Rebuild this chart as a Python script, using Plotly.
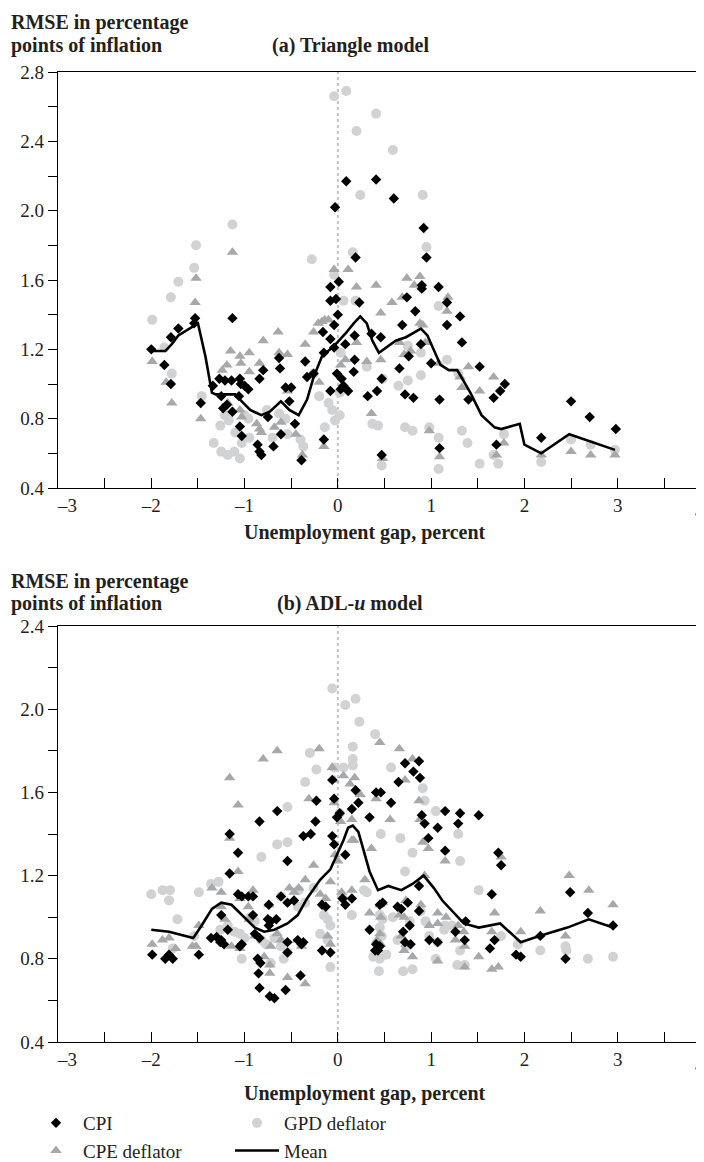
import plotly.graph_objects as go

W, H = 704, 1162
FONT = "Liberation Serif"
TXT = "#231f20"

# ---------------- data: panel (a) Triangle model ----------------
A_CPI_X = [-2.0, -1.86, -1.79, -1.79, -1.71, -1.53, -1.54, -1.47, -1.13, -1.34, -1.27, -1.21, -1.14, -1.25, -1.23,
           -1.19, -1.13, -1.05, -1.04, -1.0, -0.96, -1.06, -1.05, -1.03, -0.84, -0.80, -0.86, -0.84, -0.82, -0.75,
           -0.69, -0.63, -0.62, -0.61, -0.56, -0.50, -0.52, -0.46, -0.39, -0.35, -0.33, -0.26, -0.15, -0.16, -0.15,
           -0.08, -0.08, -0.02, 0.01, 0.0, -0.04, -0.08, -0.04, -0.03, 0.09, 0.41, 0.19, 0.23, 0.18, 0.08,
           -0.01, 0.04, 0.06, 0.03, -0.08, 0.11, 0.18, 0.17, 0.32, 0.36, 0.46, 0.42, 0.47, 0.47, 0.60,
           0.92, 0.95, 0.74, 0.83, 0.90, 0.90, 1.08, 1.17, 1.17, 1.31, 1.33, 0.69, 0.89, 0.76, 0.66,
           1.0, 0.72, 0.81, 1.09, 1.40, 1.52, 1.79, 1.74, 1.67, 1.09, 1.70, 2.18, 2.50, 2.70, 2.98]
A_CPI_Y = [1.20, 1.11, 1.27, 1.00, 1.32, 1.38, 1.35, 0.89, 1.38, 0.99, 1.03, 1.02, 1.02, 0.93, 0.86,
           0.88, 0.84, 1.03, 1.00, 0.99, 0.97, 0.93, 0.755, 0.70, 1.03, 1.08, 0.65, 0.61, 0.59, 0.81,
           0.64, 1.15, 1.09, 0.71, 0.98, 0.98, 0.90, 0.77, 0.56, 1.13, 1.04, 1.06, 0.68, 1.30, 1.18,
           1.56, 1.48, 1.49, 1.59, 1.40, 1.34, 1.26, 1.21, 2.02, 2.17, 2.18, 1.73, 1.47, 1.28, 1.23,
           1.06, 1.03, 0.99, 0.97, 0.96, 0.96, 1.14, 1.07, 0.93, 1.29, 1.27, 0.96, 1.03, 0.59, 2.07,
           1.90, 1.73, 1.50, 1.42, 1.57, 1.55, 1.56, 1.47, 1.34, 1.39, 1.24, 1.34, 1.23, 1.16, 1.09,
           1.12, 0.94, 0.92, 0.91, 0.91, 1.10, 1.00, 0.96, 0.92, 0.63, 0.65, 0.69, 0.90, 0.81, 0.74]

A_CPE_X = [-1.99, -1.84, -1.78, -1.53, -1.52, -1.47, -1.13, -1.15, -1.05, -0.95, -1.19, -1.24, -1.04, -0.95, -0.84,
           -0.80, -0.64, -0.63, -0.54, -1.05, -1.03, -1.18, -0.87, -0.84, -0.82, -0.68, -0.61, -0.54, -0.45, -0.38,
           -0.35, -0.26, -0.21, -0.17, -0.14, -0.10, -0.04, 0.11, 0.20, 0.41, 0.46, -0.15, 0.03, 0.08, -0.20,
           0.31, 0.36, 0.46, 0.58, 0.69, 0.74, 0.82, 0.88, 0.91, 0.88, 1.18, 1.17, 0.20, 0.66, 0.71,
           0.78, 0.94, 1.08, 1.40, 1.31, 1.33, 1.52, 1.67, 0.98, 1.09, 0.48, 1.70, 1.78, 2.18, 2.50,
           2.71, 2.97]
A_CPE_Y = [1.13, 1.01, 0.89, 1.47, 1.61, 0.80, 1.76, 1.19, 1.16, 1.18, 1.11, 1.08, 1.12, 1.07, 1.12,
           1.25, 1.30, 1.18, 1.17, 0.85, 0.81, 0.89, 0.77, 0.74, 0.72, 0.75, 0.78, 0.96, 0.71, 0.59,
           1.23, 1.30, 1.35, 1.36, 1.37, 1.37, 1.66, 1.66, 1.56, 1.57, 1.41, 0.64, 1.11, 1.14, 1.01,
           1.13, 0.83, 1.14, 1.47, 1.50, 1.61, 1.57, 1.62, 1.34, 1.35, 1.50, 1.42, 1.24, 1.24, 1.17,
           1.19, 1.24, 1.12, 1.10, 1.04, 0.98, 0.96, 1.04, 0.73, 0.58, 0.57, 0.59, 0.66, 0.59, 0.61,
           0.59, 0.59]

A_GPD_X = [-1.99, -1.86, -1.79, -1.71, -1.54, -1.52, -1.78, -1.46, -1.13, -1.26, -1.21, -1.17, -1.33, -1.25, -1.18,
           -1.11, -1.05, -1.03, -0.95, -1.00, -0.96, -1.10, -0.76, -0.70, -0.63, -0.56, -0.54, -0.40, -0.37, -0.28,
           -0.26, -0.20, -0.14, -0.10, -0.06, -0.03, 0.02, -0.04, 0.09, 0.41, 0.20, 0.24, 0.16, 0.06, 0.19,
           -0.04, 0.02, 0.31, 0.37, 0.43, 0.48, 0.03, 0.59, 0.91, 0.95, 1.08, 0.75, 0.89, 0.75, 0.65,
           0.89, 1.17, 1.29, 0.72, 0.80, 0.98, 1.08, 1.33, 1.39, 1.52, 1.67, 1.72, 1.78, 2.18, 2.50,
           2.71, 2.97, 0.47, 1.08]
A_GPD_Y = [1.37, 1.21, 1.50, 1.59, 1.67, 1.80, 1.06, 0.93, 1.92, 0.76, 0.82, 0.79, 0.66, 0.61, 0.59,
           0.61, 0.57, 0.66, 0.69, 0.82, 0.80, 0.72, 0.85, 0.69, 0.83, 0.80, 0.71, 0.68, 0.64, 1.72,
           1.06, 0.93, 0.75, 0.89, 0.85, 0.79, 0.82, 2.66, 2.69, 2.56, 2.46, 2.09, 1.76, 1.48, 1.48,
           1.63, 0.95, 1.10, 0.77, 0.76, 1.03, 1.18, 2.35, 2.09, 1.79, 1.45, 1.22, 1.18, 1.02, 0.99,
           1.05, 1.14, 1.06, 0.75, 0.73, 0.75, 0.69, 0.73, 0.66, 0.54, 0.59, 0.54, 0.71, 0.55, 0.68,
           0.65, 0.62, 0.53, 0.51]

A_MEAN_X = [-1.99, -1.85, -1.78, -1.71, -1.53, -1.50, -1.42, -1.35, -1.31, -1.10, -1.03, -0.94, -0.82, -0.73, -0.61,
            -0.52, -0.42, -0.33, -0.26, -0.17, -0.04, 0.08, 0.17, 0.24, 0.31, 0.37, 0.44, 0.62, 0.73, 0.89,
            0.96, 1.10, 1.19, 1.28, 1.42, 1.54, 1.68, 1.75, 1.95, 2.0, 2.18, 2.48, 2.97]
A_MEAN_Y = [1.19, 1.19, 1.23, 1.28, 1.34, 1.35, 1.16, 0.95, 0.94, 0.94, 0.90, 0.85, 0.82, 0.84, 0.90,
            0.85, 0.82, 0.91, 1.04, 1.16, 1.22, 1.29, 1.35, 1.39, 1.35, 1.25, 1.18, 1.25, 1.27, 1.32,
            1.28, 1.11, 1.08, 1.08, 0.95, 0.82, 0.75, 0.74, 0.77, 0.65, 0.60, 0.71, 0.62]

# ---------------- data: panel (b) ADL-u model ----------------
B_CPI_X = [-1.99, -1.85, -1.81, -1.77, -1.49, -1.36, -1.30, -1.26, -1.25, -1.22, -1.25, -1.18, -1.16, -1.07, -1.16,
           -1.07, -1.03, -1.05, -1.03, -0.96, -0.91, -0.91, -0.89, -0.84, -0.86, -0.83, -0.85, -0.84, -0.84, -0.65,
           -0.74, -0.75, -0.72, -0.74, -0.66, -0.73, -0.68, -0.61, -0.54, -0.54, -0.54, -0.56, -0.54, -0.47, -0.43,
           -0.39, -0.37, -0.40, -0.37, -0.29, -0.24, -0.23, -0.17, -0.13, -0.17, -0.08, -0.06, -0.04, -0.06, -0.04,
           -0.01, 0.02, 0.05, 0.15, 0.08, 0.08, 0.15, 0.19, 0.22, 0.34, 0.41, 0.46, 0.34, 0.45, 0.57,
           0.65, 0.72, 0.81, 0.87, 0.88, 0.90, 0.93, 0.97, 1.07, 1.15, 1.31, 1.29, 1.51, 1.15, 1.72,
           1.75, 1.65, 0.48, 0.75, 0.87, 0.64, 0.68, 0.87, 0.77, 0.70, 1.26, 1.37, 0.41, 0.45, 0.43,
           0.40, 0.72, 0.78, 0.98, 1.07, 1.36, 1.68, 1.63, 1.91, 1.96, 2.17, 2.49, 2.68, 2.44, 2.95]
B_CPI_Y = [0.82, 0.80, 0.82, 0.80, 0.82, 0.90, 0.905, 0.88, 0.89, 0.87, 1.01, 0.94, 1.40, 1.31, 1.21,
           1.11, 1.10, 0.86, 0.87, 1.10, 1.10, 1.01, 0.92, 0.90, 0.80, 0.78, 0.73, 0.66, 1.46, 1.51,
           1.06, 0.99, 0.98, 0.96, 0.99, 0.62, 0.61, 1.10, 1.07, 0.88, 0.83, 0.65, 1.27, 1.08, 0.89,
           0.87, 0.88, 0.72, 1.39, 1.40, 1.46, 1.56, 1.06, 1.05, 0.84, 0.83, 1.39, 1.35, 1.66, 1.57,
           1.48, 1.50, 1.09, 1.09, 1.06, 1.30, 1.52, 1.61, 1.55, 1.48, 1.60, 1.60, 0.94, 1.06, 1.55,
           1.65, 1.74, 1.70, 1.75, 1.67, 1.49, 1.45, 1.38, 1.43, 1.51, 1.50, 1.45, 1.49, 1.32, 1.31,
           1.25, 1.11, 1.07, 1.07, 1.15, 1.05, 1.04, 1.03, 0.96, 0.93, 0.93, 0.98, 0.87, 0.86, 0.84,
           0.84, 0.88, 0.87, 0.89, 0.88, 0.89, 0.89, 0.85, 0.82, 0.81, 0.91, 1.12, 1.02, 0.80, 0.96]

B_CPE_X = [-1.99, -1.88, -1.81, -1.74, -1.56, -1.52, -1.49, -1.35, -1.25, -1.25, -1.21, -1.16, -1.07, -1.16, -1.07,
           -1.05, -0.96, -1.14, -1.05, -0.91, -0.95, -0.89, -0.80, -0.65, -0.74, -0.72, -0.73, -0.73, -0.79, -0.65,
           -0.61, -0.54, -0.52, -0.47, -0.42, -0.35, -0.26, -0.31, -0.20, -0.35, -0.43, -0.39, -0.19, -0.13, -0.06,
           -0.04, 0.06, 0.18, 0.24, -0.04, 0.03, 0.15, 0.15, -0.03, 0.00, -0.08, 0.04, -0.11, -0.08, 0.29,
           0.36, 0.45, 0.42, 0.46, 0.46, 0.66, 0.80, 0.13, 0.41, 0.56, 0.72, 0.87, 0.88, 0.91, 0.97,
           0.17, 1.15, 1.75, 0.15, 0.45, 0.48, 0.73, 0.89, 0.34, 0.66, 0.71, 1.07, 1.16, 1.68, 2.17,
           2.48, 2.69, 2.95, 0.45, 0.68, 0.73, 0.98, 1.07, 1.29, 1.35, 1.26, 1.36, 1.65, 1.96, 2.44,
           0.71, 0.80, 1.07, 1.36, 1.51, 1.65, 1.72, 0.93]
B_CPE_Y = [0.87, 0.89, 0.90, 0.85, 0.86, 0.86, 0.96, 1.14, 1.12, 1.05, 0.99, 1.67, 1.54, 1.38, 1.22,
           1.09, 1.05, 0.86, 0.85, 1.13, 0.99, 0.91, 1.76, 1.80, 1.06, 0.86, 0.77, 0.73, 0.81, 0.92,
           0.89, 0.71, 1.14, 1.12, 1.14, 1.18, 1.25, 1.57, 1.81, 0.68, 0.89, 0.86, 1.11, 1.09, 1.72,
           1.66, 1.68, 1.67, 1.59, 1.55, 1.46, 1.47, 1.37, 1.30, 1.27, 1.17, 1.12, 0.91, 0.87, 1.18,
           1.33, 1.84, 0.89, 0.87, 1.00, 1.81, 1.76, 1.64, 1.57, 1.47, 1.66, 1.56, 1.47, 1.36, 1.33,
           1.37, 1.27, 1.29, 1.13, 1.06, 1.07, 1.08, 1.06, 1.02, 1.01, 1.00, 1.02, 1.00, 1.02, 1.03,
           1.20, 1.13, 1.06, 0.92, 0.91, 0.87, 0.96, 0.97, 0.96, 0.93, 0.89, 0.86, 0.93, 0.93, 0.91,
           0.84, 0.81, 0.79, 0.76, 0.81, 0.75, 0.76, 1.20]

B_GPD_X = [-2.0, -1.88, -1.80, -1.81, -1.72, -1.77, -1.49, -1.36, -1.28, -1.54, -1.26, -1.18, -1.11, -1.05, -1.00,
           -1.03, -0.94, -0.89, -0.82, -0.77, -0.82, -0.65, -0.54, -0.54, -0.35, -0.30, -0.23, -0.06, 0.08, 0.19,
           0.23, 0.40, 0.16, 0.16, 0.16, -0.04, 0.06, 0.02, -0.61, -0.68, -0.61, -0.54, -0.72, -0.58, -0.42,
           -0.35, -0.43, -0.26, -0.15, -0.11, -0.08, -0.19, -0.11, -0.08, 0.05, 0.15, 0.31, 0.45, 0.44, 0.46,
           0.57, 0.91, 0.93, 1.05, 1.29, 0.67, 0.80, 1.31, 0.72, 1.51, 0.28, 0.48, 0.59, 0.77, 0.89,
           0.94, 1.15, 1.14, 0.98, 1.07, 1.22, 0.45, 0.47, 0.38, 0.45, 0.52, 0.64, 0.73, 0.70, 0.80,
           1.05, 1.28, 1.36, 1.31, 1.75, 1.93, 2.17, 2.44, 2.45, 2.68, 2.95]
B_GPD_Y = [1.11, 1.13, 1.13, 1.08, 0.99, 0.85, 1.12, 1.16, 1.17, 0.91, 0.94, 0.96, 0.93, 0.92, 0.90,
           0.80, 1.00, 0.98, 0.89, 0.87, 1.29, 1.35, 1.36, 1.53, 1.65, 1.79, 1.71, 2.10, 2.02, 2.05,
           1.94, 1.88, 1.82, 1.76, 1.73, 1.72, 1.72, 1.50, 1.10, 0.90, 0.86, 0.83, 0.78, 0.80, 1.13,
           1.07, 1.05, 1.14, 1.01, 0.99, 0.96, 0.92, 0.89, 0.76, 1.09, 1.01, 1.12, 1.01, 0.74, 1.40,
           1.72, 1.62, 1.56, 1.51, 1.40, 1.38, 1.31, 1.27, 1.22, 1.13, 1.13, 0.99, 1.00, 0.98, 1.03,
           0.98, 0.96, 0.94, 0.91, 0.88, 0.96, 0.95, 0.91, 0.81, 0.80, 0.82, 0.89, 0.86, 0.74, 0.75,
           0.80, 0.77, 0.77, 0.84, 0.91, 0.87, 0.84, 0.86, 0.84, 0.80, 0.81]

B_MEAN_X = [-2.0, -1.81, -1.55, -1.46, -1.35, -1.25, -1.14, -1.03, -0.89, -0.79, -0.68, -0.54, -0.43, -0.33, -0.19,
            -0.08, -0.01, 0.06, 0.11, 0.16, 0.22, 0.29, 0.34, 0.43, 0.54, 0.68, 0.80, 0.92, 1.03, 1.12,
            1.22, 1.35, 1.51, 1.74, 1.96, 2.16, 2.46, 2.69, 2.95]
B_MEAN_Y = [0.94, 0.93, 0.90, 0.96, 1.04, 1.07, 1.06, 1.01, 0.95, 0.93, 0.94, 0.97, 1.01, 1.09, 1.18,
            1.23, 1.30, 1.37, 1.43, 1.44, 1.41, 1.30, 1.22, 1.13, 1.15, 1.13, 1.16, 1.20, 1.14, 1.08,
            1.03, 0.97, 0.95, 0.97, 0.88, 0.91, 0.95, 0.99, 0.95]

# ---------------- ticks / labels ----------------
X_TICKS = [-3, -2.5, -2, -1.5, -1, -0.5, 0, 0.5, 1, 1.5, 2, 2.5, 3, 3.5, 4]
X_TICK_TEXT = ["\u2007\u2007\u20133", "", "\u20132", "", "\u20131", "", "0", "", "1", "", "2", "", "3", "", ""]
X_END_LABEL = "4"
YA_TICKS = [0.4, 0.6, 0.8, 1.0, 1.2, 1.4, 1.6, 1.8, 2.0, 2.2, 2.4, 2.6, 2.8]
YA_TICK_TEXT = ["0.4", "", "0.8", "", "1.2", "", "1.6", "", "2.0", "", "2.4", "", "2.8"]
YB_TICKS = [0.4, 0.6, 0.8, 1.0, 1.2, 1.4, 1.6, 1.8, 2.0, 2.2, 2.4]
YB_TICK_TEXT = ["0.4", "", "0.8", "", "1.2", "", "1.6", "", "2.0", "", "2.4"]
SERIES = ["CPI", "CPE deflator", "GPD deflator", "Mean"]
Y_TITLE_LINES = ["<b>RMSE in percentage</b>", "<b>points of inflation</b>"]
X_TITLE = "<b>Unemployment gap, percent</b>"
TITLE_A = "<b>(a) Triangle model</b>"
TITLE_B = "<b>(b) ADL-<i>u</i> model</b>"

C_CPE = "#a7a8aa"
C_GPD = "#d1d2d4"


def fx(p):
    return p / W


def fy(p):
    return 1 - p / H


fig = go.Figure()


def add_panel(xa, ya, gx, gy, ex, ey, cx, cy, mx, my, show):
    fig.add_trace(go.Scatter(x=gx, y=gy, mode="markers", name=SERIES[2], xaxis=xa, yaxis=ya,
                             marker=dict(symbol="circle", size=10, color=C_GPD),
                             showlegend=show, legend="legend2", legendrank=1))
    fig.add_trace(go.Scatter(x=ex, y=ey, mode="markers", name=SERIES[1], xaxis=xa, yaxis=ya,
                             marker=dict(symbol="triangle-up", size=10, color=C_CPE),
                             showlegend=show, legend="legend", legendrank=2))
    fig.add_trace(go.Scatter(x=cx, y=cy, mode="markers", name=SERIES[0], xaxis=xa, yaxis=ya,
                             marker=dict(symbol="diamond", size=8, color="black"),
                             showlegend=show, legend="legend", legendrank=1))
    fig.add_trace(go.Scatter(x=mx, y=my, mode="lines", name=SERIES[3], xaxis=xa, yaxis=ya,
                             line=dict(color="black", width=2.6),
                             showlegend=show, legend="legend2", legendrank=2))


add_panel("x", "y", A_GPD_X, A_GPD_Y, A_CPE_X, A_CPE_Y, A_CPI_X, A_CPI_Y, A_MEAN_X, A_MEAN_Y, False)
add_panel("x2", "y2", B_GPD_X, B_GPD_Y, B_CPE_X, B_CPE_Y, B_CPI_X, B_CPI_Y, B_MEAN_X, B_MEAN_Y, True)

xdom = [fx(50), fx(703)]
axis_common = dict(showgrid=False, zeroline=False, showline=True, linecolor="black", linewidth=1.3,
                   mirror=True, tickfont=dict(family=FONT, size=19, color=TXT), tickcolor="black",
                   tickwidth=1.3, automargin=False)

xa = dict(axis_common, range=[-3, 4], domain=xdom, tickmode="array", tickvals=X_TICKS,
          ticktext=X_TICK_TEXT, ticks="inside", ticklen=10, ticklabelstandoff=0)

LEG_FONT = dict(family=FONT, size=19, color=TXT)

fig.update_layout(
    width=W, height=H,
    margin=dict(l=0, r=0, t=0, b=0, autoexpand=False),
    paper_bgcolor="white", plot_bgcolor="white",
    font=dict(family=FONT, color=TXT, size=19),
    xaxis=dict(xa, anchor="y"),
    yaxis=dict(axis_common, range=[0.4, 2.8], domain=[fy(480), fy(64)], anchor="x",
               tickmode="array", tickvals=YA_TICKS, ticktext=YA_TICK_TEXT, ticks="outside", ticklen=9),
    xaxis2=dict(xa, anchor="y2"),
    yaxis2=dict(axis_common, range=[0.4, 2.4], domain=[fy(1034), fy(618)], anchor="x2",
                tickmode="array", tickvals=YB_TICKS, ticktext=YB_TICK_TEXT, ticks="outside", ticklen=9),
    legend=dict(x=fx(21), y=fy(1096), xanchor="left", yanchor="top", orientation="v", itemwidth=44,
                font=LEG_FONT, tracegroupgap=0, bgcolor="rgba(0,0,0,0)", borderwidth=0),
    legend2=dict(x=fx(222), y=fy(1096), xanchor="left", yanchor="top", orientation="v", itemwidth=44,
                 font=LEG_FONT, tracegroupgap=0, bgcolor="rgba(0,0,0,0)", borderwidth=0),
    showlegend=True,
)

for xr, yr in (("x", "y"), ("x2", "y2")):
    fig.add_shape(type="line", xref=xr, yref=yr + " domain", x0=0, x1=0, y0=0, y1=1,
                  line=dict(color="#c4c4c4", width=2, dash="dot"), layer="below")

ann = []
for l1, title in ((15, TITLE_A), (573, TITLE_B)):
    for k, line in enumerate(Y_TITLE_LINES):
        ann.append(dict(text=line, x=fx(1), y=fy(l1 + 22 * k), xref="paper", yref="paper", xanchor="left",
                        yanchor="middle", showarrow=False, font=dict(family=FONT, size=20, color=TXT)))
    ann.append(dict(text=title, x=fx(342), y=fy(l1 + 22), xref="paper", yref="paper", xanchor="center",
                    yanchor="middle", showarrow=False, font=dict(family=FONT, size=20, color=TXT)))
for yy in (524, 1085):
    ann.append(dict(text=X_TITLE, x=fx(357), y=fy(yy), xref="paper", yref="paper", xanchor="center",
                    yanchor="middle", showarrow=False, font=dict(family=FONT, size=20, color=TXT)))
# label of the last x tick, kept fully inside the page
for yy in (503, 1057):
    ann.append(dict(text=X_END_LABEL, x=fx(692), y=fy(yy), xref="paper", yref="paper", xanchor="center",
                    yanchor="middle", showarrow=False, borderpad=0,
                    font=dict(family=FONT, size=19, color=TXT)))
fig.update_layout(annotations=ann)

fig.write_html("out.html")
